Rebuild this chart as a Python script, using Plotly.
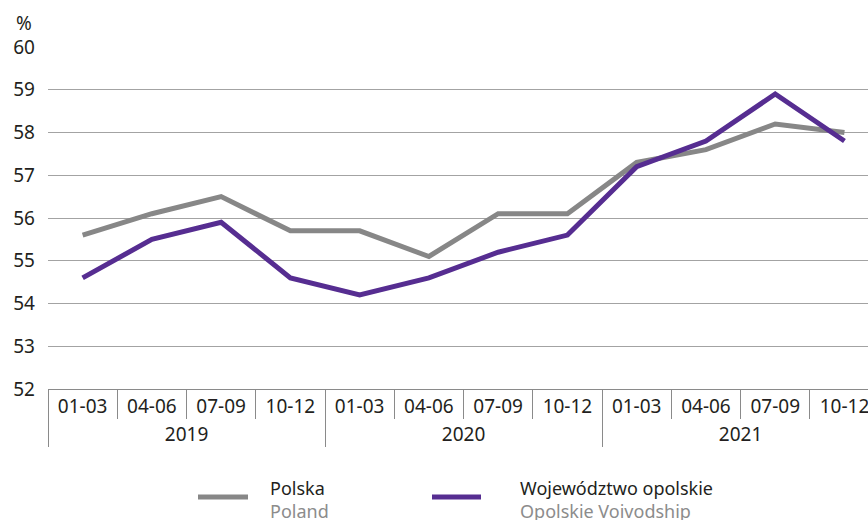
import plotly.graph_objects as go

# Quarterly values, %
years = ["2019"] * 4 + ["2020"] * 4 + ["2021"] * 4
quarters = ["01-03", "04-06", "07-09", "10-12"] * 3
polska = [55.6, 56.1, 56.5, 55.7, 55.7, 55.1, 56.1, 56.1, 57.3, 57.6, 58.2, 58.0]
opolskie = [54.6, 55.5, 55.9, 54.6, 54.2, 54.6, 55.2, 55.6, 57.2, 57.8, 58.9, 57.8]
y_ticks = [52, 53, 54, 55, 56, 57, 58, 59, 60]

GRAY = "#878787"
PURPLE = "#562d91"
TEXT = "#231f20"
SUBTEXT = "#8c8c8c"
FONT = "Noto Sans"

W, H = 868, 520
L, T, B = 48, 47, 131
plot_w = W - L
plot_h = H - T - B

fig = go.Figure()
fig.add_trace(go.Scatter(x=[years, quarters], y=polska, mode="lines",
                         line=dict(color=GRAY, width=5), name="Polska"))
fig.add_trace(go.Scatter(x=[years, quarters], y=opolskie, mode="lines",
                         line=dict(color=PURPLE, width=5), name="Województwo opolskie"))


def px_x(px):
    return (px - L) / plot_w


def px_y(py):
    return (H - B - py) / plot_h


# Legend drawn by hand: swatch line plus a two-language label
legend_items = [
    (198, 248, 268, GRAY, "Polska", "Poland"),
    (432, 481, 518, PURPLE, "Województwo opolskie", "Opolskie Voivodship"),
]
shapes = []
annotations = []
for x0, x1, tx, col, pl, en in legend_items:
    shapes.append(dict(type="line", xref="paper", yref="paper",
                       x0=px_x(x0), x1=px_x(x1), y0=px_y(497), y1=px_y(497),
                       line=dict(color=col, width=5)))
    annotations.append(dict(
        xref="paper", yref="paper", x=px_x(tx), y=px_y(474),
        text=f"{pl}<br><span style='color:{SUBTEXT}'>{en}</span>",
        showarrow=False, xanchor="left", yanchor="top", align="left",
        font=dict(family=FONT, size=18, color=TEXT)))

annotations.append(dict(xref="paper", yref="paper", x=px_x(24), y=px_y(23),
                        text="%", showarrow=False, xanchor="center", yanchor="middle",
                        font=dict(family=FONT, size=19, color=TEXT)))

fig.update_layout(
    width=W, height=H,
    margin=dict(l=L, r=0, t=T, b=B, pad=0),
    paper_bgcolor="white", plot_bgcolor="white",
    showlegend=False,
    font=dict(family=FONT, size=19, color=TEXT),
    shapes=shapes,
    annotations=annotations,
    xaxis=dict(
        type="multicategory",
        range=[-0.5, 11.34],
        showgrid=False,
        showline=True, linecolor="#8a8a8a", linewidth=1,
        ticks="outside", ticklen=29, tickcolor="#8a8a8a", tickwidth=1,
        showdividers=True, dividercolor="#8a8a8a", dividerwidth=1,
        tickfont=dict(family=FONT, size=19, color=TEXT),
        zeroline=False,
    ),
    yaxis=dict(
        range=[52, 60],
        tickvals=y_ticks,
        showgrid=True, gridcolor="#a3a3a3", gridwidth=1,
        zeroline=False, showline=False,
        ticks="", ticklabelstandoff=12,
        tickfont=dict(family=FONT, size=19, color=TEXT),
    ),
)

fig.write_html("out.html")
